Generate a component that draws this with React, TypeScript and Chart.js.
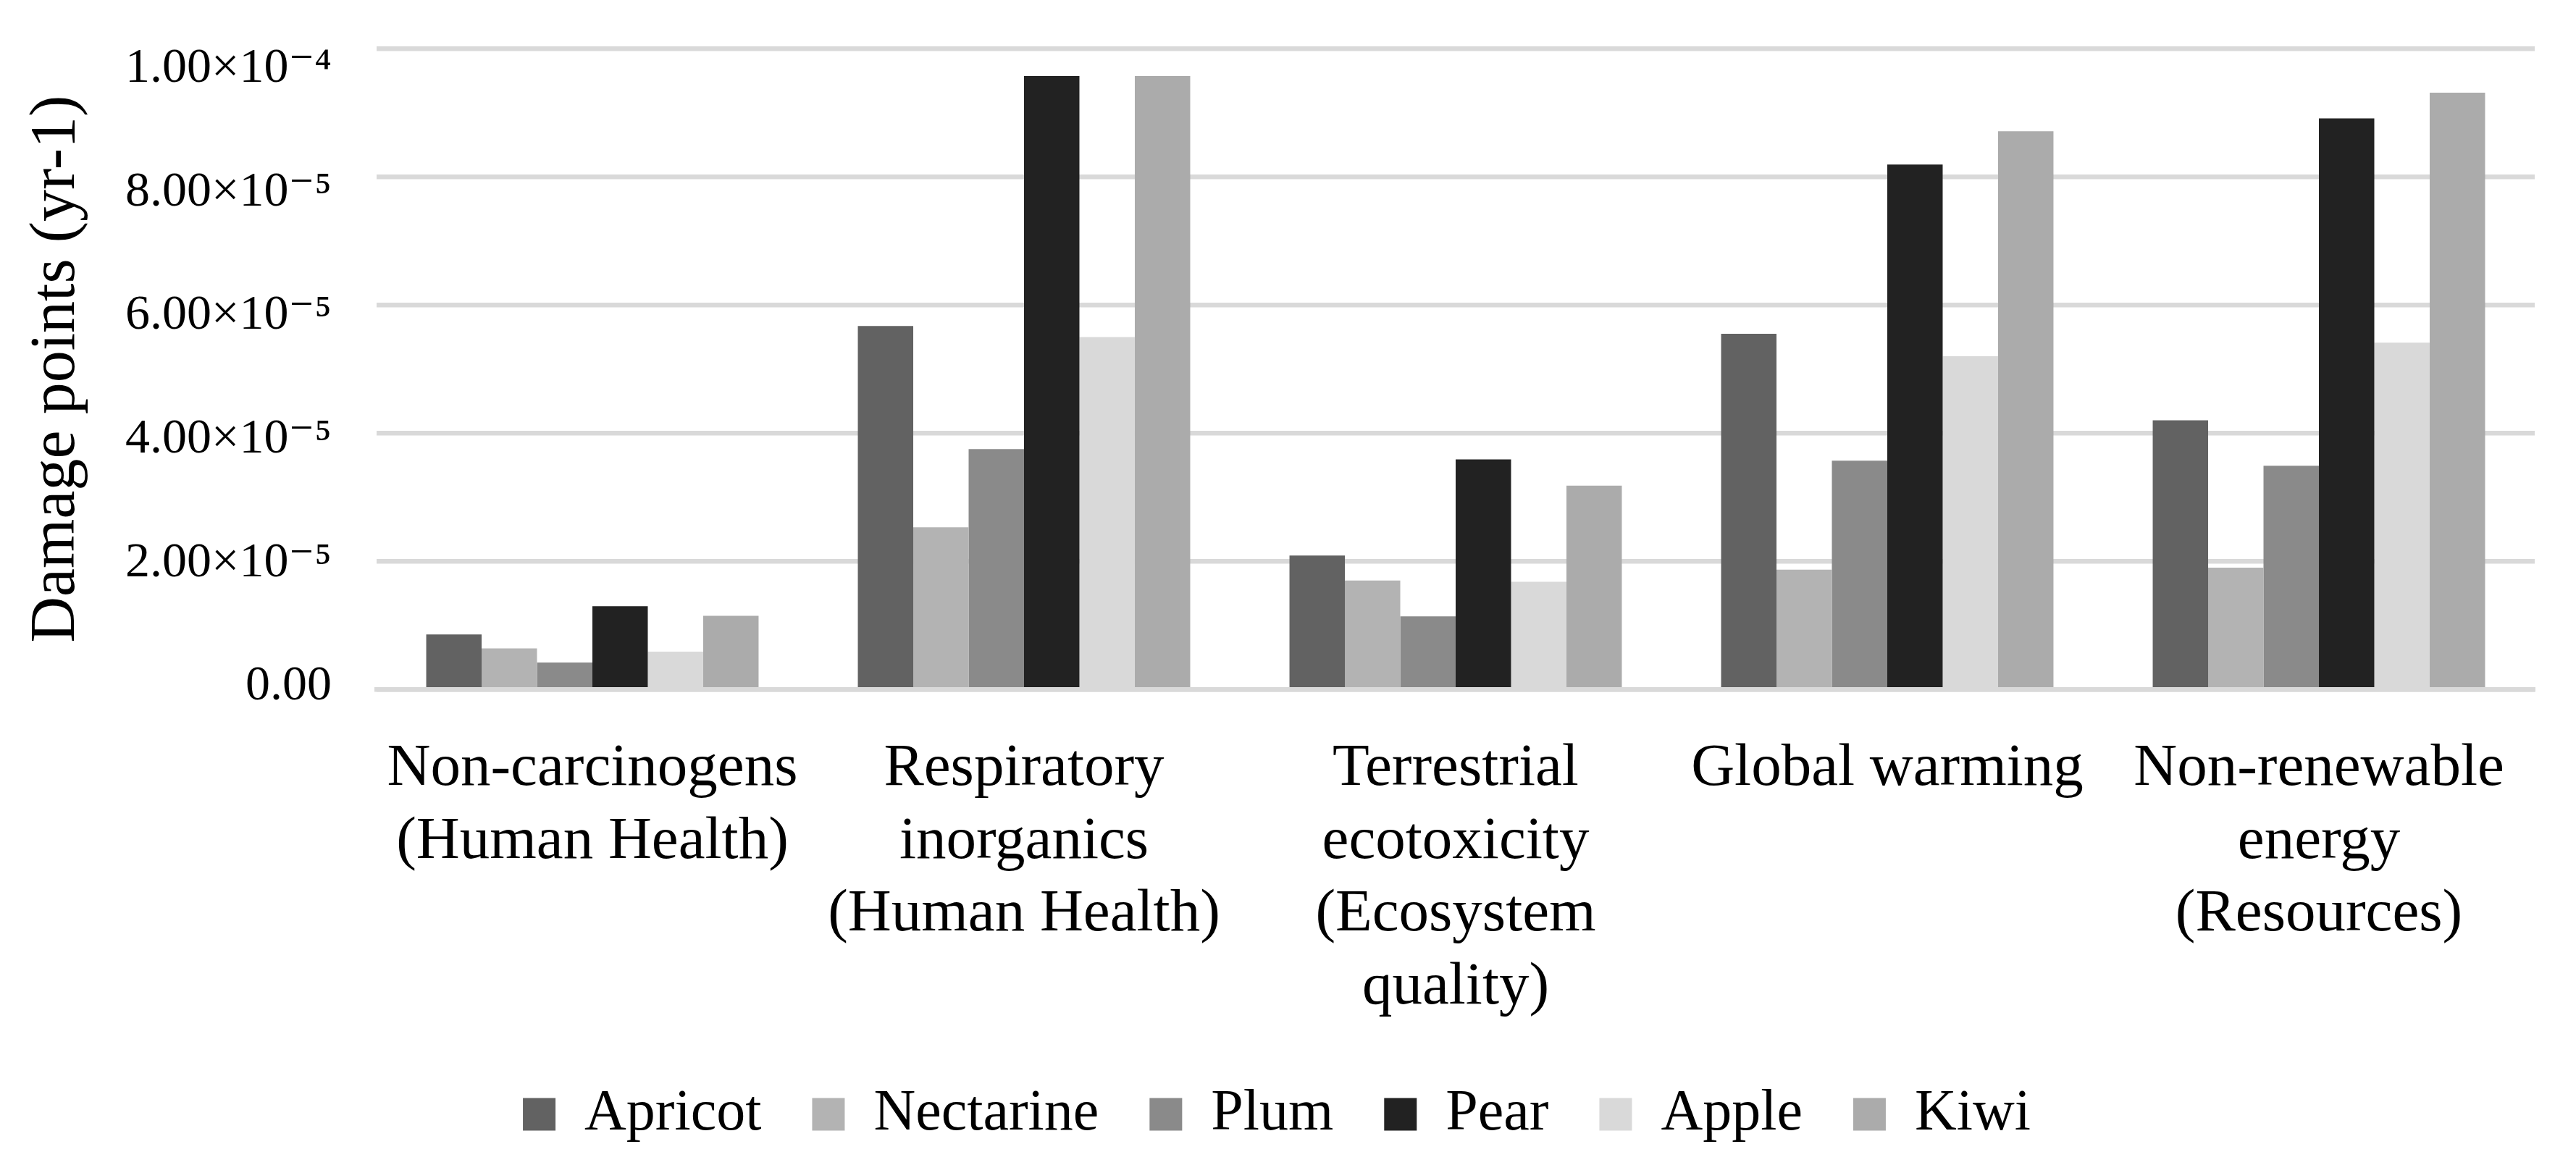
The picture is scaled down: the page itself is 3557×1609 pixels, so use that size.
import React, { useEffect, useRef } from "react";
import { Chart, registerables } from "chart.js";

Chart.register(...registerables);

const categories: string[][] = [
  ["Non-carcinogens", "(Human Health)"],
  ["Respiratory", "inorganics", "(Human Health)"],
  ["Terrestrial", "ecotoxicity", "(Ecosystem", "quality)"],
  ["Global warming"],
  ["Non-renewable", "energy", "(Resources)"],
];

const seriesNames = ["Apricot", "Nectarine", "Plum", "Pear", "Apple", "Kiwi"];
const seriesColors = ["#626262", "#b3b3b3", "#8a8a8a", "#222222", "#d9d9d9", "#ababab"];

const apricot = [0.86e-5, 5.67e-5, 2.09e-5, 5.55e-5, 4.2e-5];
const nectarine = [0.64e-5, 2.53e-5, 1.7e-5, 1.87e-5, 1.9e-5];
const plum = [0.42e-5, 3.75e-5, 1.14e-5, 3.57e-5, 3.49e-5];
const pear = [1.3e-5, 9.57e-5, 3.59e-5, 8.19e-5, 8.91e-5];
const apple = [0.59e-5, 5.5e-5, 1.68e-5, 5.2e-5, 5.41e-5];
const kiwi = [1.15e-5, 9.57e-5, 3.18e-5, 8.71e-5, 9.31e-5];

const yTickValues = [0, 2e-5, 4e-5, 6e-5, 8e-5, 1e-4];
const yTickLabels = ["0.00", "2.00×10⁻⁵", "4.00×10⁻⁵", "6.00×10⁻⁵", "8.00×10⁻⁵", "1.00×10⁻⁴"];
// the labels in the original sit on a slightly compressed scale relative to the gridlines
const labelAxisMin = -4.7e-7;
const labelAxisMax = 1.033e-4;

const FONT = "'Liberation Serif', 'DejaVu Serif', serif";

export default function App() {
  const canvasRef = useRef<HTMLCanvasElement | null>(null);

  useEffect(() => {
    if (!canvasRef.current) return;
    const seriesValues = [apricot, nectarine, plum, pear, apple, kiwi];
    const chart = new Chart(canvasRef.current, {
      type: "bar",
      data: {
        labels: categories,
        datasets: seriesNames.map((name, i) => ({
          label: name,
          data: seriesValues[i],
          backgroundColor: seriesColors[i],
          borderWidth: 0,
          categoryPercentage: 0.77,
          barPercentage: 1,
          yAxisID: "y",
        })),
      },
      options: {
        animation: false,
        responsive: true,
        maintainAspectRatio: false,
        devicePixelRatio: 1,
        layout: { padding: { top: 67, right: 57, bottom: 20, left: 26 } },
        plugins: {
          legend: {
            position: "bottom",
            labels: {
              font: { family: FONT, size: 80 },
              color: "#000",
              boxWidth: 45,
              boxHeight: 45,
              padding: 70,
            },
          },
          tooltip: { enabled: false },
        },
        scales: {
          x: {
            grid: { display: false, drawTicks: false },
            border: { display: true, color: "#d9d9d9", width: 6.5 },
            afterFit: (scale: any) => {
              scale.height -= 45;
            },
            ticks: {
              font: { family: FONT, size: 83, lineHeight: 1.21 },
              color: "#000",
              padding: 60,
              maxRotation: 0,
              minRotation: 0,
              autoSkip: false,
            },
          },
          y: {
            position: "left",
            weight: 0,
            min: 0,
            max: 1e-4,
            afterBuildTicks: (scale: any) => {
              scale.ticks = yTickValues.map((v) => ({ value: v }));
            },
            afterFit: (scale: any) => {
              scale.width = 62;
            },
            grid: { color: "#d9d9d9", lineWidth: 6.5, drawTicks: false },
            border: { display: false },
            ticks: { display: false, padding: 0 },
          },
          yLabels: {
            type: "linear",
            position: "left",
            weight: 1,
            min: labelAxisMin,
            max: labelAxisMax,
            afterBuildTicks: (scale: any) => {
              scale.ticks = yTickValues.map((v) => ({ value: v }));
            },
            afterFit: (scale: any) => {
              scale.width = 432;
            },
            grid: { display: false, drawTicks: false },
            border: { display: false },
            ticks: {
              font: { family: FONT, size: 68 },
              color: "#000",
              padding: 0,
              callback: (_v: any, index: number) => yTickLabels[index],
            },
            title: {
              display: true,
              text: "Damage points (yr-1)",
              font: { family: FONT, size: 88 },
              color: "#000",
              padding: 0,
            },
          },
        },
      },
    });
    return () => chart.destroy();
  }, []);

  return (
    <div style={{ position: "fixed", left: 0, top: 0, width: "100vw", height: "100vh", background: "#fff" }}>
      <canvas ref={canvasRef} />
    </div>
  );
}
